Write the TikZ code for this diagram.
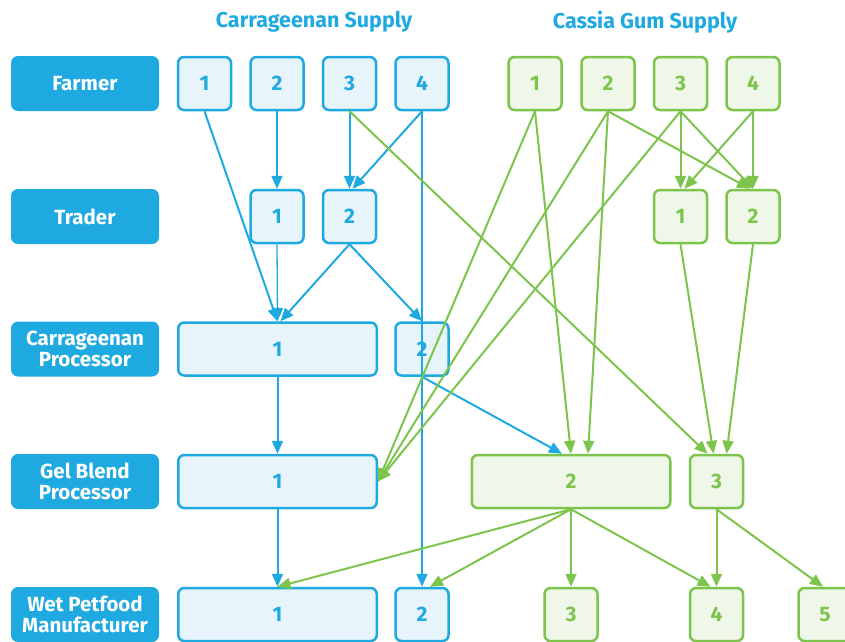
\documentclass[tikz,border=0pt]{standalone}
\usepackage{fontspec}
\setmainfont{Fira Sans}
\usetikzlibrary{arrows.meta}
\definecolor{cblue}{HTML}{1FA9E1}
\definecolor{lblue}{HTML}{E8F4FB}
\definecolor{cgreen}{HTML}{7DC44C}
\definecolor{lgreen}{HTML}{EFF7E9}
\tikzstyle{barrow} = [line width=2pt,draw=cblue,-{Triangle[length=13pt,width=11pt]}]
\tikzstyle{garrow} = [line width=2pt,draw=cgreen,-{Triangle[length=13pt,width=11pt]}]

\begin{document}
\begin{tikzpicture}
        [
            x=1pt,y=-1pt,
            lbl/.style={rectangle,rounded corners=7pt,fill=cblue,text=white,minimum width=148pt,minimum height=55pt,inner sep=0pt,align=center,font=\bfseries\fontsize{20.5}{21}\selectfont},
            bbox/.style={rectangle,rounded corners=6pt,draw=cblue,fill=lblue,line width=2.5pt,text=cblue,minimum width=53pt,minimum height=53pt,inner sep=0pt,font=\bfseries\fontsize{21}{22}\selectfont},
            gbox/.style={bbox,draw=cgreen,fill=lgreen,text=cgreen},
            wide/.style={minimum width=198.5pt},
            title/.style={text=cblue,font=\bfseries\fontsize{21.5}{22}\selectfont},
        ]
    \useasboundingbox (0,0) rectangle (845,641);

    \node[title] (ctitle) at (314,22) {Carrageenan Supply};
    \node[title] (gtitle) at (645,22) {Cassia Gum Supply};

    \node[lbl] (farmer) at (85,83.5) {Farmer};
    \node[lbl] (trader) at (85,216.5) {Trader};
    \node[lbl] (cproc) at (85,349) {Carrageenan\\Processor};
    \node[lbl] (gproc) at (85,481.5) {Gel Blend\\Processor};
    \node[lbl] (wpm) at (85,614.5) {Wet Petfood\\Manufacturer};

    \foreach \n/\x in {1/204.5,2/277,3/349.5,4/422}
        \node[bbox] (bf\n) at (\x,83.5) {\n};
    \foreach \n/\x in {1/535,2/608,3/680.5,4/753}
        \node[gbox] (gf\n) at (\x,83.5) {\n};

    \node[bbox] (bt1) at (277,216.5) {1};
    \node[bbox] (bt2) at (349.5,216.5) {2};
    \node[gbox] (gt1) at (680.5,216.5) {1};
    \node[gbox] (gt2) at (753,216.5) {2};

    \node[bbox,wide] (cp1) at (277.5,349) {1};
    \node[bbox] (cp2) at (422,349) {2};

    \node[bbox,wide] (gb1) at (277.5,481.5) {1};
    \node[gbox,wide] (gg2) at (571,481.5) {2};
    \node[gbox] (gg3) at (716.5,481.5) {3};

    \node[bbox,wide] (bw1) at (277.5,614.5) {1};
    \node[bbox] (bw2) at (422,614.5) {2};
    \node[gbox] (gw3) at (571,614.5) {3};
    \node[gbox] (gw4) at (716.5,614.5) {4};
    \node[gbox] (gw5) at (825,614.5) {5};

    \draw[barrow] (bf1.south) -- (cp1.north);
    \draw[barrow] (bf2) -- (bt1);
    \draw[barrow] (bf3) -- (bt2);
    \draw[barrow] (bf4.south) -- ([xshift=3pt]bt2.north);
    \draw[barrow] (bf4) -- (bw2);
    \draw[barrow,line width=1.3pt] (bt1.south) -- (cp1.north);
    \draw[barrow] (bt2.south) -- ([xshift=3pt]cp1.north);
    \draw[barrow] (bt2.south) -- (cp2.north);
    \draw[barrow] (cp1) -- (gb1);
    \draw[barrow] (gb1) -- (bw1);
    \draw[barrow] (cp2.south) -- ([xshift=-9pt]gg2.north);

    \draw[garrow] (gf1.south) -- (gb1.east);
    \draw[garrow] (gf2.south) -- (gb1.east);
    \draw[garrow] (gf3.south) -- (gb1.east);
    \draw[garrow] (gf1.south) -- (gg2.north);
    \draw[garrow] (gf2.south) -- ([xshift=17pt]gg2.north);
    \draw[garrow] (gf2.south) -- ([xshift=-3pt]gt2.north);
    \draw[garrow] (gf3) -- (gt1);
    \draw[garrow] (gf3.south) -- (gt2.north);
    \draw[garrow] (gf4.south) -- ([xshift=4pt]gt1.north);
    \draw[garrow] (gf4) -- (gt2);
    \draw[garrow] (bf3.south) -- ([xshift=-9pt]gg3.north);
    \draw[garrow] (gt1.south) -- ([xshift=-3pt]gg3.north);
    \draw[garrow] (gt2.south) -- ([xshift=10pt]gg3.north);
    \draw[garrow] (gg2.south) -- (bw1.north);
    \draw[garrow] (gg2.south) -- ([xshift=8pt]bw2.north);
    \draw[garrow] (gg2) -- (gw3);
    \draw[garrow] (gg2.south) -- ([xshift=-6pt]gw4.north);
    \draw[garrow] (gg3) -- (gw4);
    \draw[garrow] (gg3.south) -- ([xshift=-2pt]gw5.north);
\end{tikzpicture}
\end{document}
